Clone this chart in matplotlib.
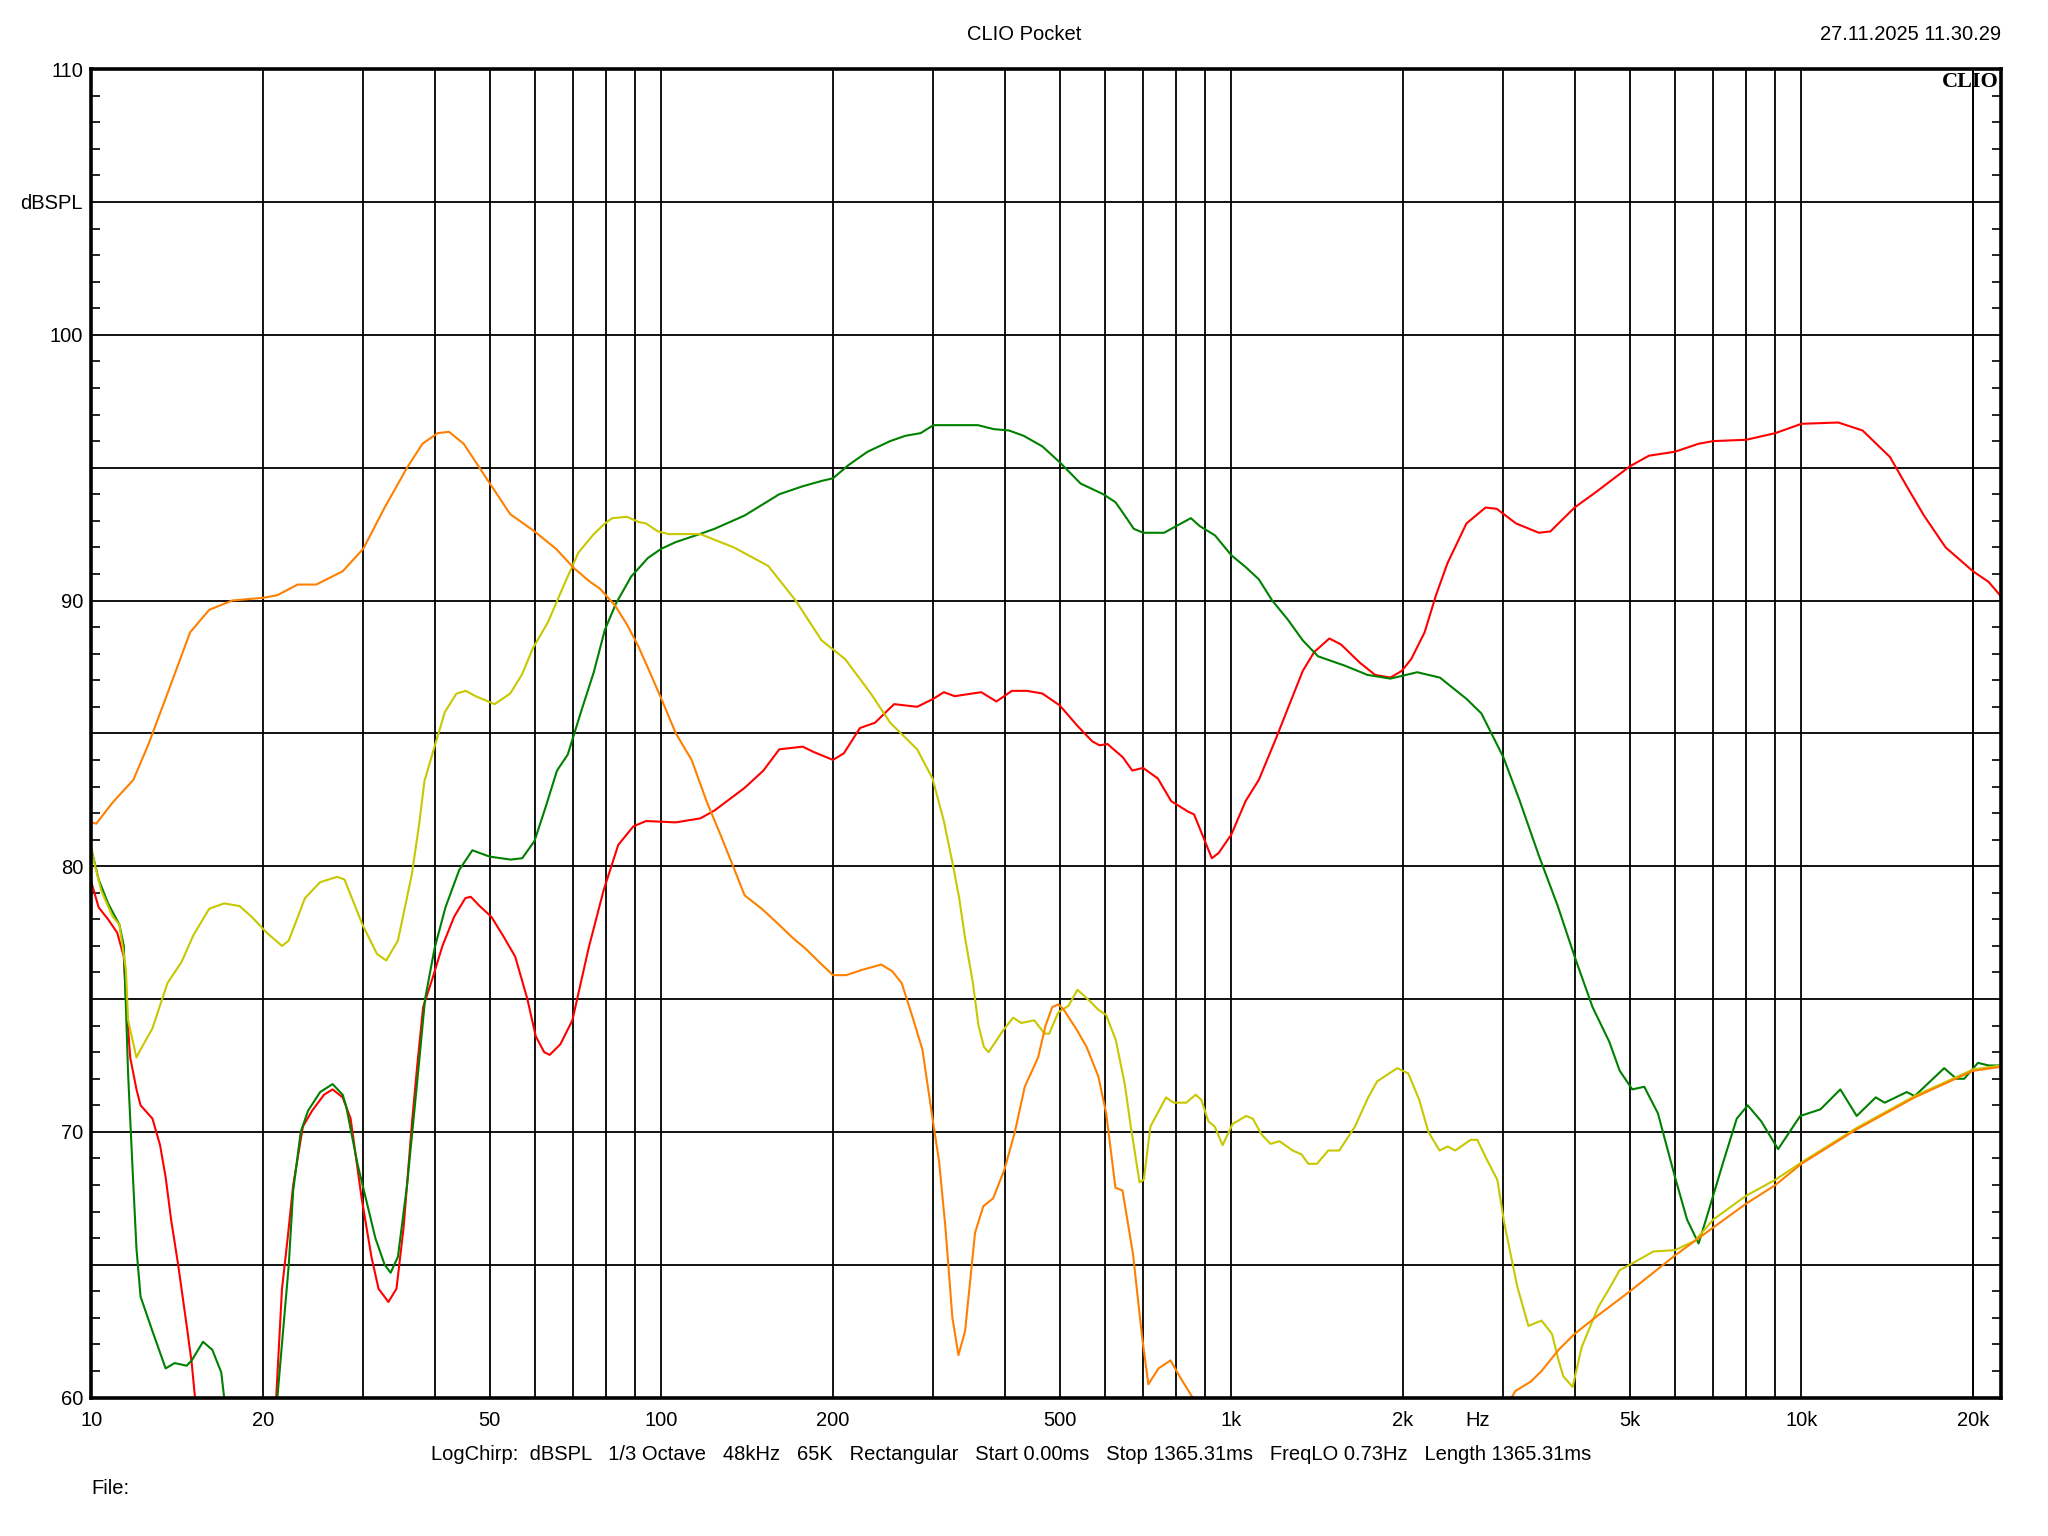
import numpy as np
import matplotlib
matplotlib.use('Agg')
import matplotlib.pyplot as plt
from matplotlib.ticker import NullFormatter

nan = np.nan

# red trace
red_f = [10, 10.3, 10.7, 11.1, 11.4, 11.5, 11.7, 12.0, 12.2, 12.8, 13.2, 13.5, 13.8, 14.2, 14.7, 15.0, 15.2, 15.5,
         18.0,
         20.8, 21.1, 21.6, 22.1, 22.6, 23.5, 24.4, 25.6, 26.5, 27.6, 28.5, 29.8, 31.0, 31.9, 33.2, 34.3, 35.3, 36.5,
         37.3, 38.2, 39.7, 41.3, 43.3, 45.3, 46.3, 48.0, 50.3, 52.7, 55.4, 58.2, 60.2, 62.3, 63.7, 66.5, 69.8, 74.5,
         79.2, 84.0, 89.3, 94, 106, 117, 124, 140, 151, 161, 177, 185, 200, 209, 223, 237, 256, 281, 300, 313, 327,
         364, 387, 412, 438, 466, 500, 536, 570, 587, 606, 645, 670, 700, 743, 784, 840, 860, 900, 924, 950, 1000,
         1059, 1117, 1197, 1254, 1334, 1397, 1485, 1556, 1680, 1787, 1900, 1990, 2068, 2182, 2285, 2393, 2584, 2792,
         2921, 3158, 3462, 3627, 4000, 4372, 5000, 5400, 6000, 6600, 7000, 8000, 9000, 10000, 11600, 12800, 14300,
         15300, 16400, 17900, 20000, 21300, 22400]
red_db = [79.4, 78.45, 78.0, 77.5, 76.6, 75.0, 72.8, 71.6, 71.0, 70.5, 69.5, 68.3, 66.7, 65.0, 62.7, 61.3, 60.0, 58.5,
          nan,
          58.5, 60.0, 64.1, 66.0, 68.0, 70.2, 70.8, 71.4, 71.6, 71.3, 70.5, 67.5, 65.3, 64.1, 63.6, 64.1, 66.4, 70.3,
          72.5, 74.7, 75.8, 77.0, 78.1, 78.8, 78.85, 78.5, 78.1, 77.4, 76.6, 75.0, 73.6, 73.0, 72.9, 73.3, 74.2, 76.9,
          79.1, 80.8, 81.5, 81.7, 81.65, 81.8, 82.1, 82.95, 83.6, 84.4, 84.5, 84.3, 84.0, 84.25, 85.2, 85.4, 86.1,
          86.0, 86.3, 86.55, 86.4, 86.55, 86.2, 86.6, 86.6, 86.5, 86.05, 85.3, 84.7, 84.55, 84.6, 84.1, 83.6, 83.7,
          83.3, 82.45, 82.05, 81.95, 80.9, 80.3, 80.5, 81.2, 82.45, 83.25, 84.8, 85.9, 87.35, 88.06, 88.57, 88.35,
          87.66, 87.2, 87.1, 87.35, 87.8, 88.8, 90.2, 91.4, 92.9, 93.5, 93.45, 92.9, 92.55, 92.6, 93.5, 94.1, 95.05,
          95.45, 95.6, 95.9, 96.0, 96.05, 96.3, 96.65, 96.7, 96.4, 95.4, 94.3, 93.2, 92.0, 91.1, 90.7, 90.15]

# green trace
green_f = [10, 10.3, 10.7, 11.2, 11.4, 11.5, 11.6, 11.8, 12.0, 12.2, 12.8, 13.5, 14.0, 14.7, 15.0, 15.7, 16.3, 16.9,
           17.1, 17.3,
           19.0,
           20.9, 21.2, 22.2, 22.6, 23.3, 24.0, 25.2, 26.5, 27.6, 28.0, 29.3, 30.3, 31.5, 32.7, 33.5, 34.5, 35.8, 37.3,
           38.5, 40.0, 41.8, 44.2, 46.6, 50, 54.4, 57.0, 59.9, 62.6, 65.6, 68.5, 72.5, 76.1, 79.6, 83.3, 88.5, 94.7,
           100, 106, 116.7, 124, 140, 161, 177, 191, 200, 213, 230, 252, 268, 285, 300, 328, 359, 383, 407, 432, 466,
           500, 544, 596, 626, 650, 674, 700, 728, 762, 800, 849, 880, 936, 1000, 1059, 1117, 1179, 1254, 1334, 1419,
           1580, 1733, 1900, 2118, 2321, 2584, 2745, 3000, 3200, 3462, 3737, 4000, 4300, 4600, 4800, 5050, 5300, 5600,
           6000, 6300, 6600, 6800, 7300, 7700, 8050, 8500, 9100, 9950, 10800, 11700, 12500, 13500, 14000, 15300,
           15800, 17800, 18700, 19300, 20400, 21300, 22400]
green_db = [80.65, 79.5, 78.6, 77.8, 77.0, 74.7, 72.2, 68.8, 65.6, 63.8, 62.5, 61.1, 61.3, 61.2, 61.4, 62.1, 61.8,
            60.95, 60.0, 58.5,
            nan,
            58.5, 60.0, 65.0, 67.8, 70.0, 70.8, 71.5, 71.8, 71.4, 70.95, 68.8, 67.5, 66.0, 65.0, 64.7, 65.3, 68.0,
            71.9, 75.0, 76.9, 78.45, 79.86, 80.6, 80.36, 80.25, 80.3, 80.95, 82.2, 83.6, 84.2, 85.9, 87.3, 88.9, 89.9,
            90.9, 91.6, 91.95, 92.2, 92.5, 92.7, 93.2, 94.0, 94.3, 94.5, 94.6, 95.1, 95.6, 96.0, 96.2, 96.3, 96.6,
            96.6, 96.6, 96.45, 96.4, 96.2, 95.8, 95.2, 94.4, 94.0, 93.7, 93.2, 92.7, 92.55, 92.55, 92.55, 92.8, 93.1,
            92.8, 92.45, 91.7, 91.26, 90.8, 90.0, 89.3, 88.5, 87.9, 87.55, 87.2, 87.06, 87.3, 87.1, 86.3, 85.75, 84.1,
            82.5, 80.4, 78.5, 76.6, 74.7, 73.4, 72.3, 71.6, 71.7, 70.7, 68.3, 66.7, 65.8, 66.7, 68.9, 70.5, 71.0, 70.4,
            69.35, 70.6, 70.85, 71.6, 70.6, 71.3, 71.1, 71.5, 71.35, 72.4, 72.0, 72.0, 72.6, 72.5, 72.5]

# yellow trace
yellow_f = [10, 10.4, 10.9, 11.2, 11.5, 11.6, 12.0, 12.2, 12.8, 13.6, 14.4, 15.1, 16.1, 17.1, 18.2, 19.1, 20.3, 21.6,
            22.2, 23.7, 25.2, 27.0, 27.8, 29.9, 31.7, 32.9, 34.5, 36.5, 37.6, 38.4, 40.0, 41.7, 43.7, 45.4, 47.2,
            51.0, 54.3, 56.9, 59.5, 63.3, 67.2, 71.5, 76.1, 79.6, 82, 87, 91.4, 94, 98.6, 103, 117, 134, 154, 172,
            191, 210, 233, 252, 281, 299, 313, 325, 333, 341, 352, 360, 368, 375, 397, 414, 428, 451, 470, 479, 497,
            518, 537, 566, 584, 603, 627, 650, 666, 690, 702, 721, 768, 792, 833, 866, 886, 911, 935, 965, 1005, 1061,
            1090, 1130, 1171, 1214, 1281, 1328, 1364, 1413, 1479, 1546, 1647, 1738, 1801, 1954, 2043, 2136, 2216,
            2318, 2396, 2470, 2627, 2700, 2800, 2927, 3009, 3171, 3319, 3500, 3650, 3750, 3822, 3968, 4116, 4399,
            4600, 4800, 5000, 5500, 6000, 6500, 7000, 8000, 9000, 10000, 12500, 15800, 20000, 22400]
yellow_db = [80.6, 79.1, 78.1, 77.8, 76.1, 74.2, 72.8, 73.1, 73.9, 75.6, 76.4, 77.4, 78.4, 78.6, 78.5, 78.1, 77.5,
             77.0, 77.2, 78.8, 79.4, 79.6, 79.5, 77.8, 76.7, 76.45, 77.2, 79.7, 81.6, 83.2, 84.5, 85.8, 86.5, 86.6,
             86.4, 86.1, 86.5, 87.2, 88.2, 89.2, 90.5, 91.8, 92.5, 92.9, 93.1, 93.15, 92.95, 92.9, 92.6, 92.5, 92.5,
             92.0, 91.3, 90.0, 88.5, 87.8, 86.5, 85.4, 84.4, 83.3, 81.7, 80.0, 78.8, 77.3, 75.6, 74.0, 73.2, 73.0,
             73.8, 74.3, 74.1, 74.2, 73.7, 73.7, 74.5, 74.75, 75.35, 74.9, 74.6, 74.4, 73.45, 71.8, 70.2, 68.1, 68.2,
             70.2, 71.3, 71.1, 71.1, 71.4, 71.2, 70.4, 70.2, 69.5, 70.3, 70.6, 70.5, 69.9, 69.55, 69.65, 69.3, 69.15,
             68.8, 68.8, 69.3, 69.3, 70.2, 71.3, 71.9, 72.4, 72.2, 71.2, 70.0, 69.3, 69.45, 69.3, 69.7, 69.7, 69.0,
             68.2, 66.6, 64.2, 62.7, 62.9, 62.4, 61.4, 60.8, 60.4, 61.9, 63.4, 64.1, 64.8, 65.0, 65.5, 65.55, 65.9,
             66.7, 67.6, 68.2, 68.85, 70.15, 71.35, 72.35, 72.5]

# orange trace
orange_f = [10, 10.2, 10.9, 11.85, 12.6, 13.6, 14.9, 16.1, 17.67, 20, 21.2, 23, 24.8, 27.6, 30, 32.7, 35.8, 38.1,
            40.5, 42.4, 45, 49.5, 54.3, 59.5, 65.3, 70.4, 75, 78, 83, 87, 91, 95, 100, 106, 113, 120, 128, 140, 150,
            159, 170, 179, 189, 200, 211, 225, 243, 254, 264, 276, 287, 300, 307, 315, 324, 332, 341, 355, 367, 382,
            400, 417, 434, 458, 472, 485, 497, 508, 537, 557, 584, 603, 626, 644, 672, 697, 715, 745, 782, 811, 855,
            870,
            1500,
            3000, 3100, 3150, 3350, 3500, 3750, 4000, 4400, 5000, 6000, 7000, 8000, 9000, 10000, 12500, 15800, 20000,
            22400]
orange_db = [81.65, 81.6, 82.4, 83.25, 84.6, 86.5, 88.8, 89.65, 90.0, 90.1, 90.2, 90.6, 90.6, 91.1, 91.95, 93.5, 95.0,
             95.9, 96.3, 96.35, 95.9, 94.55, 93.25, 92.65, 91.95, 91.2, 90.7, 90.45, 89.8, 89.1, 88.3, 87.4, 86.3,
             85.0, 84.0, 82.45, 81.0, 78.9, 78.4, 77.9, 77.3, 76.9, 76.4, 75.9, 75.9, 76.1, 76.3, 76.05, 75.6, 74.3,
             73.1, 70.3, 68.9, 66.4, 63.0, 61.6, 62.5, 66.2, 67.2, 67.5, 68.6, 70.0, 71.7, 72.8, 74.0, 74.7, 74.8,
             74.6, 73.8, 73.2, 72.1, 70.7, 67.9, 67.8, 65.4, 62.3, 60.5, 61.1, 61.4, 60.8, 60.0, 58.5,
             nan,
             58.5, 60.0, 60.25, 60.6, 61.0, 61.8, 62.4, 63.1, 64.0, 65.35, 66.4, 67.3, 68.0, 68.8, 70.1, 71.3, 72.3,
             72.45]

x_labels = ['10', '20', '50', '100', '200', '500', '1k', '2k', 'Hz', '5k', '10k', '20k']
x_label_pos = [10, 20, 50, 100, 200, 500, 1000, 2000, 2700, 5000, 10000, 20000]
y_labels = ['60', '', '70', '', '80', '', '90', '', '100', 'dBSPL', '110']

info = ('LogChirp:  dBSPL   1/3 Octave   48kHz   65K   Rectangular   Start 0.00ms   '
        'Stop 1365.31ms   FreqLO 0.73Hz   Length 1365.31ms')

FS = 14.5
plt.rcParams['font.family'] = ['Liberation Sans', 'DejaVu Sans']
plt.rcParams['font.size'] = FS

fig = plt.figure(figsize=(20.48, 15.36), dpi=100)
ax = fig.add_axes([0.0446, 0.0901, 0.9325, 0.8649])
ax.set_xscale('log')
ax.set_xlim(10, 22400)
ax.set_ylim(60, 110)

# log grid on every 1..9 step, labels only on a few
grid_f = [m * 10 ** e for e in range(1, 5) for m in range(1, 10)]
grid_f = [g for g in grid_f if g <= 22400] + [20000]
ax.xaxis.remove_overlapping_locs = False
ax.set_xticks(grid_f, minor=True)
ax.xaxis.set_minor_formatter(NullFormatter())
ax.set_xticks(x_label_pos, x_labels)
ax.grid(which='minor', axis='x', color='black', lw=1.3)
ax.tick_params(axis='x', which='both', length=0, pad=10, labelsize=FS)

ax.set_yticks(np.arange(60, 111, 5), y_labels)
ax.set_yticks(np.arange(60, 111, 1), minor=True)
ax.yaxis.set_minor_formatter(NullFormatter())
ax.grid(which='major', axis='y', color='black', lw=1.3)
ax.tick_params(axis='y', which='major', length=0, pad=6, labelsize=FS)
ax.tick_params(axis='y', which='minor', direction='in', length=6.5, width=1.2, left=True, right=True)

for s in ax.spines.values():
    s.set_linewidth(2.6)

ax.plot(red_f, red_db, color='#ff0000', lw=1.5)
ax.plot(green_f, green_db, color='#008000', lw=1.5)
ax.plot(yellow_f, yellow_db, color='#c8c800', lw=1.5)
ax.plot(orange_f, orange_db, color='#ff8000', lw=1.5)

fig.text(0.5, 1 - 34 / 1536, 'CLIO Pocket', ha='center', va='center', fontsize=FS)
fig.text(2001 / 2048, 1 - 34 / 1536, '27.11.2025 11.30.29', ha='right', va='center', fontsize=FS)
ax.text(0.999, 0.998, 'CLIO', transform=ax.transAxes, ha='right', va='top',
        family='Liberation Serif', fontweight='bold', fontsize=16)
fig.text(1011 / 2048, 1 - 1455 / 1536, info, ha='center', va='center', fontsize=FS)
fig.text(91 / 2048, 1 - 1489 / 1536, 'File:', ha='left', va='center', fontsize=FS)

fig.savefig('out.png', dpi=100)
